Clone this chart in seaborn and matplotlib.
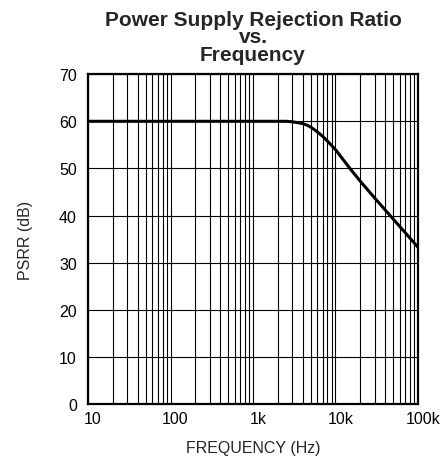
import numpy as np
import pandas as pd
import seaborn as sns
import matplotlib.pyplot as plt
import matplotlib.transforms as mtransforms
from matplotlib.ticker import FixedLocator, LogLocator, NullFormatter

freq_hz = [10, 100, 1000, 2000, 2500, 3000, 3500, 4000, 4500, 5000, 6000, 7000,
           8000, 10000, 15000, 20000, 30000, 50000, 70000, 100000]
psrr_db = [60, 60, 60, 60, 60, 59.9, 59.7, 59.5, 59.2, 58.8, 57.8, 56.8,
           55.8, 54.0, 50.0, 47.3, 43.7, 39.3, 36.4, 33.3]
x_ticks = [10, 100, 1000, 10000, 100000]
x_ticklabels = ['10', '100', '1k', '10k', '100k']
y_ticks = [0, 10, 20, 30, 40, 50, 60, 70]

df = pd.DataFrame({'freq': freq_hz, 'psrr': psrr_db})

sns.set_style('white')
plt.rcParams['font.family'] = ['Liberation Sans', 'DejaVu Sans']

fig = plt.figure(figsize=(4.45, 4.64), dpi=100)
ax = fig.add_axes([0.198, 0.127, 0.741, 0.711])

sns.lineplot(data=df, x='freq', y='psrr', color='black', linewidth=2.2, ax=ax)

ax.set_xscale('log')
ax.set_xlim(10, 100000)
ax.set_ylim(0, 70)
ax.xaxis.set_major_locator(FixedLocator(x_ticks))
ax.set_xticklabels(x_ticklabels)
ax.xaxis.set_minor_locator(LogLocator(base=10, subs=np.arange(2, 10)))
ax.xaxis.set_minor_formatter(NullFormatter())
ax.set_yticks(y_ticks)

ax.grid(True, which='both', axis='x', color='black', linewidth=0.8)
ax.grid(True, which='major', axis='y', color='black', linewidth=0.8)
ax.tick_params(which='both', length=0, labelsize=11.5, colors='black')
ax.tick_params(axis='x', pad=5)
ax.tick_params(axis='y', pad=8)
for lbl in ax.get_xticklabels():
    lbl.set_transform(lbl.get_transform() + mtransforms.ScaledTranslation(5 / 100, 0, fig.dpi_scale_trans))
for s in ax.spines.values():
    s.set_color('black')
    s.set_linewidth(1.6)

ax.set_xlabel('FREQUENCY (Hz)', fontsize=11.5, labelpad=10)
ax.set_ylabel('PSRR (dB)', fontsize=11.5, labelpad=19)
ax.set_title('Power Supply Rejection Ratio\nvs.\nFrequency', fontsize=15,
             fontweight='bold', linespacing=0.9, pad=10.5)

fig.savefig('out.png', dpi=100)
